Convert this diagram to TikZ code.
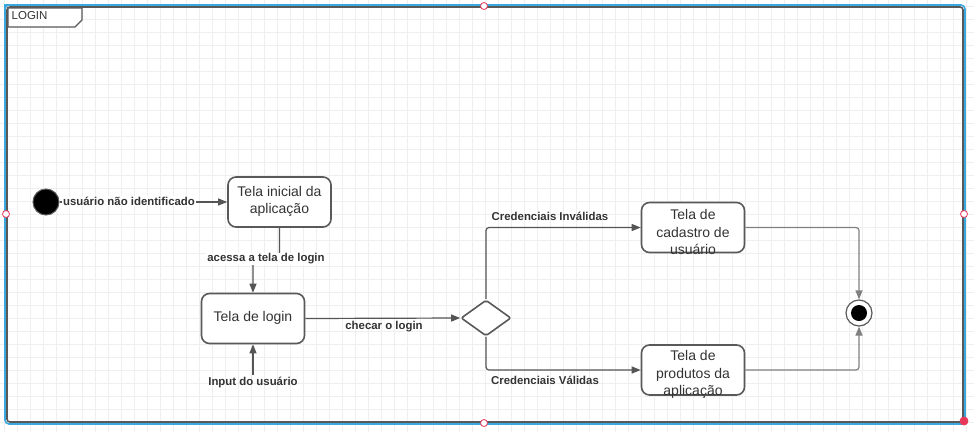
\documentclass[tikz,border=0pt]{standalone}
\usepackage{fontspec}
\setmainfont{Liberation Sans}
\usetikzlibrary{arrows.meta,shapes.geometric}
\definecolor{gridc}{HTML}{EFEFEF}
\definecolor{linec}{HTML}{595959}
\definecolor{connc}{HTML}{555555}
\definecolor{connl}{HTML}{808080}
\definecolor{selblue}{HTML}{3AA8DE}
\definecolor{handle}{HTML}{E8385A}
\definecolor{txt}{HTML}{333333}
\tikzset{
  statebox/.style={draw=linec, line width=1.6pt, rounded corners=8pt, minimum width=103pt, minimum height=50pt, inner sep=0pt, fill=white},
  boxtext/.style={font=\fontsize{14}{17.5}\selectfont, text=txt, align=center, inner sep=0pt},
  lbl/.style={font=\bfseries\fontsize{11.4}{13}\selectfont, text=txt, inner sep=1pt},
  lblw/.style={lbl, fill=white},
  conn/.style={draw=connc, line width=1.2pt, rounded corners=3pt, -{Triangle[length=9pt,width=7pt]}},
  connlight/.style={draw=connl, line width=1.2pt, rounded corners=3pt, -{Triangle[length=9pt,width=7pt]}},
  handlec/.style={circle, draw=handle, fill=white, line width=0.8pt, minimum size=7pt, inner sep=0pt},
  handlef/.style={circle, draw=handle, fill=handle, line width=0.8pt, minimum size=8pt, inner sep=0pt}
}
\begin{document}
\begin{tikzpicture}[x=1pt,y=-1pt]
\useasboundingbox (0,0) rectangle (974,432);
\fill[white] (0,0) rectangle (974,432);
% grid
\foreach \gx in {4,17,...,974} \draw[gridc, line width=0.8pt] (\gx,0) -- (\gx,432);
\foreach \gy in {6,19,...,432} \draw[gridc, line width=0.8pt] (0,\gy) -- (974,\gy);
% frame
\draw[selblue, line width=1.6pt, rounded corners=4pt] (5,5) rectangle (965,424);
\draw[linec, line width=1.6pt, rounded corners=3pt] (7,7) rectangle (963,422);
\draw[linec, line width=1.4pt, fill=white] (7.8,27) -- (75,27) -- (82,20) -- (82,7.8) -- (7.8,7.8) -- cycle;
\draw[selblue, line width=1.6pt] (5,9) -- (5,5) -- (12,5);
\node[anchor=west, font=\fontsize{11.5}{13}\selectfont, text=txt, inner sep=0pt] (title) at (11.5,16) {LOGIN};
% nodes
\node[circle, fill=black, draw=linec, line width=1pt, minimum size=26pt, inner sep=0pt] (init) at (46,202) {};
\node[statebox] (ini) at (279.5,202) {};
\node[boxtext] (initext) at (279.5,201.5) {Tela inicial da\\aplicação};
\node[statebox] (login) at (253,318.5) {};
\node[boxtext] (logintext) at (253,317.5) {Tela de login};
\node[diamond, draw=linec, line width=1.6pt, minimum width=50pt, minimum height=36pt, inner sep=0pt, fill=white, rounded corners=2pt] (dia) at (486,318) {};
\node[statebox] (cad) at (693,227.5) {};
\node[boxtext] (cadtext) at (693,232) {Tela de\\cadastro de\\usuário};
\node[statebox] (prod) at (693,370) {};
\node[boxtext] (prodtext) at (693,374.5) {Tela de\\produtos da\\aplicação};
\node[circle, draw=linec, line width=1.2pt, minimum size=26pt, inner sep=0pt, fill=white] (fin) at (859,313) {};
\fill[black] (fin.center) circle (8pt);
\coordinate (inp) at (253,375);
% connectors
\draw[conn] (init) -- (ini);
\draw[conn] (ini.south) -- ++(0,32) -| (login.north);
\draw[conn] (inp) -- (login.south);
\draw[conn] (login.east) -- (dia.west);
\draw[conn] (dia.north) |- (cad.west);
\draw[conn] (dia.south) |- (prod.west);
\draw[connlight] (cad.east) -| (fin.north);
\draw[connlight] (prod.east) -| (fin.south);
% labels
\node[lblw] (l1) at (129,201) {usuário não identificado};
\node[lblw] (l2) at (266,259) {acessa a tela de login};
\node[lbl] (l3) at (253,382) {Input do usuário};
\node[lbl] (l4) at (384,327) {checar o login};
\node[lbl] (l5) at (550,216) {Credenciais Inválidas};
\node[lbl] (l6) at (545,380) {Credenciais Válidas};
% selection handles
\node[handlec] (h1) at (484,6) {};
\node[handlec] (h2) at (6,214) {};
\node[handlec] (h3) at (964,214) {};
\node[handlec] (h4) at (484,423) {};
\node[handlef] (h5) at (964,421) {};
\end{tikzpicture}
\end{document}
